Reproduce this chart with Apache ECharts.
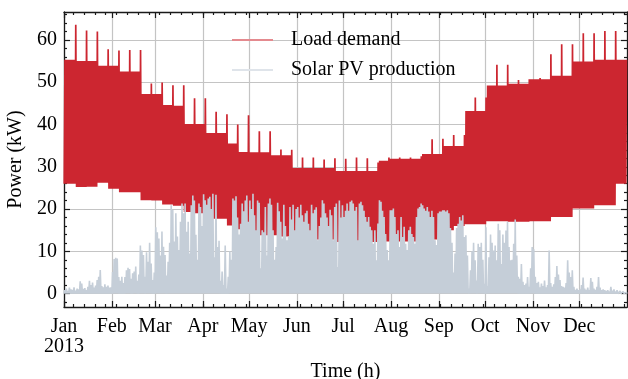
<!DOCTYPE html>
<html>
<head>
<meta charset="utf-8">
<script src="https://cdn.jsdelivr.net/npm/echarts@6/dist/echarts.min.js"></script>
<style>
  html, body { margin: 0; padding: 0; background: #fff; }
  #chart { width: 628px; height: 379px; }
</style>
</head>
<body>
<div id="chart"></div>
<script>
// Calendar of 2013: day-of-year at which each month starts, and its label
const monthStarts = [0, 31, 59, 90, 120, 151, 181, 212, 243, 273, 304, 334];
const monthLabels = ['Jan\n2013', 'Feb', 'Mar', 'Apr', 'May', 'Jun', 'Jul', 'Aug', 'Sep', 'Oct', 'Nov', 'Dec'];
const powerTicks = [0, 10, 20, 30, 40, 50, 60];

// Load demand per week (kW): usual daily peak, night-time minimum,
// and the peak reached on the last day of the week
const weekHigh = [55.3, 55.0, 55.0, 53.9, 53.9, 52.5, 52.5, 47.2, 47.2, 44.6, 44.4, 40.1, 40.1,
  38.0, 38.0, 35.5, 33.5, 33.4, 33.4, 32.7, 32.7, 29.7, 29.7, 29.7, 29.7, 29.0,
  29.0, 29.0, 29.0, 31.4, 31.9, 31.9, 31.9, 33.0, 33.0, 34.9, 34.9, 43.2, 43.2,
  49.2, 49.2, 49.6, 49.6, 50.7, 50.7, 51.5, 51.5, 54.9, 54.9, 55.3, 55.3, 55.3];
const weekLow = [26.0, 25.2, 25.3, 26.2, 24.8, 24.0, 24.0, 22.1, 22.0, 21.1, 20.8, 19.3, 19.0,
  17.7, 17.7, 16.1, 15.2, 14.2, 13.8, 13.8, 13.5, 12.8, 12.8, 12.8, 12.8, 12.2,
  12.2, 12.2, 12.2, 12.3, 12.3, 12.3, 12.3, 12.6, 12.8, 15.0, 16.0, 16.4, 16.4,
  17.1, 17.1, 17.0, 17.0, 17.1, 17.1, 18.1, 18.1, 20.1, 20.1, 20.9, 20.9, 26.0];
const weekPeak = [63.6, 62.2, 62.0, 57.8, 57.5, 57.6, 57.6, 49.7, 49.9, 49.3, 49.3, 46.2, 46.2,
  43.0, 42.4, 40.0, 42.2, 38.4, 38.4, 34.1, 34.0, 32.2, 32.2, 31.7, 32.0, 31.9,
  32.2, 32.0, 31.0, 32.2, 32.2, 32.2, 32.5, 36.5, 36.6, 37.5, 37.5, 46.4, 46.4,
  54.1, 54.1, 50.5, 50.7, 51.0, 56.6, 59.0, 59.0, 61.6, 61.6, 62.1, 62.1, 55.3];

// Solar PV production: midday peak of each day (kW), month by month
const solarJan = [0.8, 1.2, 0.6, 1.4, 1.0, 0.9, 1.5, 0.7, 1.2, 1.0, 2.9, 2.4, 1.1, 1.3, 0.8, 1.6,
  3.0, 2.0, 2.6, 1.4, 1.9, 3.2, 4.0, 5.6, 1.8, 1.5, 2.2, 1.6, 1.9, 1.4, 1.5];
const solarFeb = [5.1, 8.2, 8.5, 8.3, 3.9, 3.0, 4.0, 2.5, 3.9, 5.5, 6.1, 5.8, 3.5, 4.8, 5.2, 6.4,
  3.0, 4.5, 11.4, 10.2, 9.1, 4.0, 9.8, 7.5, 12.0, 7.1, 3.2, 5.0];
const solarMar = [15.7, 14.5, 13.0, 9.0, 14.7, 11.1, 9.1, 4.3, 7.5, 12.0, 20.9, 19.8, 12.3, 19.0,
  13.5, 10.3, 17.0, 21.3, 19.0, 21.3, 14.6, 17.0, 9.5, 20.9, 23.2, 22.0, 13.9, 8.0, 21.3, 20.5, 16.0];
const solarApr = [23.5, 22.1, 21.0, 22.5, 22.9, 20.0, 23.6, 8.6, 23.4, 11.0, 12.5, 3.0, 5.2, 2.0,
  11.4, 1.2, 4.0, 10.0, 8.0, 22.5, 22.0, 23.0, 18.0, 14.0, 16.5, 21.3, 19.5, 22.0, 23.2, 17.0];
const solarMay = [22.0, 20.0, 23.6, 18.5, 15.0, 22.0, 21.5, 6.0, 15.0, 14.5, 20.5, 9.0, 21.3, 22.5,
  21.0, 15.0, 8.0, 11.0, 21.5, 19.5, 17.0, 13.0, 21.0, 16.0, 12.6, 13.5, 20.5, 17.5, 21.0, 15.0, 20.0];
const solarJun = [20.5, 18.0, 21.0, 18.5, 17.0, 19.0, 19.6, 16.5, 15.0, 21.0, 19.0, 19.8, 20.4, 12.6,
  16.0, 18.0, 22.1, 21.3, 19.0, 18.0, 16.0, 19.8, 18.5, 12.6, 20.5, 21.3, 6.3, 22.0, 18.0, 20.9];
const solarJul = [18.1, 19.6, 21.3, 19.6, 21.7, 22.0, 21.3, 19.6, 20.5, 12.6, 21.3, 21.7, 20.9, 19.6,
  18.1, 17.0, 18.1, 15.8, 15.0, 11.8, 15.0, 7.9, 16.6, 22.1, 21.7, 19.6, 18.1, 14.1, 10.3, 7.9, 19.7];
const solarAug = [19.7, 20.1, 18.1, 14.1, 15.0, 11.0, 18.1, 13.4, 15.8, 11.8, 10.3, 15.0, 15.8, 14.1,
  13.4, 11.8, 18.1, 20.1, 20.5, 21.3, 20.9, 20.1, 19.6, 20.5, 19.4, 18.1, 19.6, 18.1, 12.6, 11.5, 19.0];
const solarSep = [19.4, 19.4, 19.7, 19.7, 19.4, 19.7, 19.0, 15.5, 12.0, 5.0, 9.5, 15.5, 16.5, 18.1,
  17.3, 18.5, 13.4, 13.8, 9.0, 1.2, 5.5, 10.0, 12.0, 7.9, 3.1, 11.8, 11.0, 12.0, 8.0, 2.3];
const solarOct = [15.7, 1.8, 8.6, 14.0, 12.0, 10.2, 11.4, 7.9, 16.5, 15.0, 7.0, 14.0, 12.0, 14.9,
  17.0, 11.0, 7.9, 8.0, 11.8, 17.5, 9.0, 4.0, 3.5, 7.0, 2.8, 2.0, 2.4, 3.9, 1.6, 6.0, 11.0];
const solarNov = [10.5, 4.0, 2.5, 2.8, 1.5, 2.4, 1.8, 3.1, 1.5, 2.0, 10.2, 2.5, 1.6, 2.2, 3.9, 6.5,
  4.5, 3.2, 1.8, 1.6, 1.4, 2.5, 7.9, 5.0, 3.9, 5.5, 1.6, 0.9, 1.2, 0.8];
const solarDec = [1.0, 2.0, 3.8, 1.2, 0.9, 1.4, 0.8, 3.7, 2.8, 1.2, 0.9, 1.6, 3.9, 1.4, 0.8, 1.0,
  0.8, 0.6, 0.8, 0.5, 1.6, 0.7, 1.0, 0.5, 0.8, 0.4, 0.6, 0.3, 0.5, 0.4, 0.3];

const solarPeaks = [].concat(solarJan, solarFeb, solarMar, solarApr, solarMay, solarJun,
  solarJul, solarAug, solarSep, solarOct, solarNov, solarDec);
const DAYS = solarPeaks.length;          // 365
const LAST_HOUR = DAYS - 1 + 23 / 24;    // 31 Dec 23:00

// Hourly-style traces: load swings between its night minimum and daytime peak,
// PV rises from zero at night to its midday peak
const loadData = [];
for (let d = 0; d < DAYS; d++) {
  const w = d === 0 ? 0 : Math.floor((d - 1) / 7);
  const high = (d > 0 && d % 7 === 0) ? weekPeak[w] : weekHigh[w];
  loadData.push([d + 4 / 24, weekLow[w]]);
  loadData.push([d + 15 / 24, high]);
}
const solarData = [];
for (let d = 0; d < DAYS; d++) {
  solarData.push([d, 0]);
  solarData.push([d + 0.5, solarPeaks[d]]);
}
solarData.push([LAST_HOUR, 0]);

// Minor ticks: Mondays (7 Jan 2013 is day 6)
const mondays = [];
for (let d = 6; d < DAYS; d += 7) mondays.push(d);
const minorPower = [];
for (let v = -2; v <= 66; v += 2) if (v % 10 !== 0) minorPower.push(v);

const FONT = 'Liberation Serif';
const Y_MIN = -3.17, Y_MAX = 66.6;
const frame = { show: true, onZero: false, lineStyle: { color: '#1a1a1a', width: 1.3 } };
const noLine = { show: false, onZero: false };

function xAxisDef(position, ticks, len, isMain) {
  const isBottomMain = isMain && position === 'bottom';
  return {
    type: 'value', position, min: 0, max: LAST_HOUR,
    axisLine: isMain ? frame : noLine,
    axisTick: { show: true, inside: true, length: len, customValues: ticks,
      lineStyle: { color: '#1a1a1a', width: 1.2 } },
    axisLabel: isBottomMain ? {
      show: true, customValues: monthStarts, margin: 10,
      fontFamily: FONT, fontSize: 20, color: '#000', lineHeight: 20,
      formatter: v => monthLabels[monthStarts.indexOf(Math.round(v))] || ''
    } : { show: false },
    splitLine: isBottomMain ? { show: true, lineStyle: { color: '#c4c4c4', width: 1.2 } } : { show: false },
    name: isBottomMain ? 'Time (h)' : '',
    nameLocation: 'middle', nameGap: 55,
    nameTextStyle: { fontFamily: FONT, fontSize: 20, color: '#000' }
  };
}
function yAxisDef(position, ticks, len, isMain) {
  const isLeftMain = isMain && position === 'left';
  return {
    type: 'value', position, min: Y_MIN, max: Y_MAX,
    axisLine: isMain ? frame : noLine,
    axisTick: { show: true, inside: true, length: len, customValues: ticks,
      lineStyle: { color: '#1a1a1a', width: 1.2 } },
    axisLabel: isLeftMain ? {
      show: true, customValues: powerTicks, margin: 7,
      fontFamily: FONT, fontSize: 20, color: '#000'
    } : { show: false },
    splitLine: isLeftMain ? { show: true, lineStyle: { color: '#c4c4c4', width: 1.2 } } : { show: false },
    name: isLeftMain ? 'Power (kW)' : '',
    nameLocation: 'middle', nameGap: 32,
    nameTextStyle: { fontFamily: FONT, fontSize: 20, color: '#000' }
  };
}

const chart = echarts.init(document.getElementById('chart'), null, { renderer: 'canvas' });
chart.setOption({
  animation: false,
  backgroundColor: '#fff',
  grid: { left: 64, right: 1, top: 12, bottom: 72, containLabel: false, outerBoundsMode: 'none' },
  xAxis: [
    xAxisDef('bottom', monthStarts, 6, true),
    xAxisDef('bottom', mondays, 3, false),
    xAxisDef('top', monthStarts, 6, true),
    xAxisDef('top', mondays, 3, false)
  ],
  yAxis: [
    yAxisDef('left', powerTicks, 6, true),
    yAxisDef('left', minorPower, 3, false),
    yAxisDef('right', powerTicks, 6, true),
    yAxisDef('right', minorPower, 3, false)
  ],
  legend: {
    orient: 'vertical', left: 232, top: 30, padding: 0,
    icon: 'rect', itemWidth: 41, itemHeight: 2, itemGap: 10,
    textStyle: { fontFamily: FONT, fontSize: 20, color: '#000', padding: [0, 0, 0, 13] },
    data: [
      { name: 'Load demand', itemStyle: { color: '#e48a8f' } },
      { name: 'Solar PV production', itemStyle: { color: '#dfe4ea' } }
    ]
  },
  series: [
    {
      name: 'Load demand', type: 'line', data: loadData,
      xAxisIndex: 0, yAxisIndex: 0, symbol: 'none', z: 2,
      color: '#cc2630',
      lineStyle: { color: '#cc2630', width: 1.7 }
    },
    {
      name: 'Solar PV production', type: 'line', data: solarData,
      xAxisIndex: 0, yAxisIndex: 0, symbol: 'none', z: 3,
      color: '#c5ced8',
      lineStyle: { color: '#c5ced8', width: 1.6 }
    }
  ]
});
</script>
</body>
</html>
